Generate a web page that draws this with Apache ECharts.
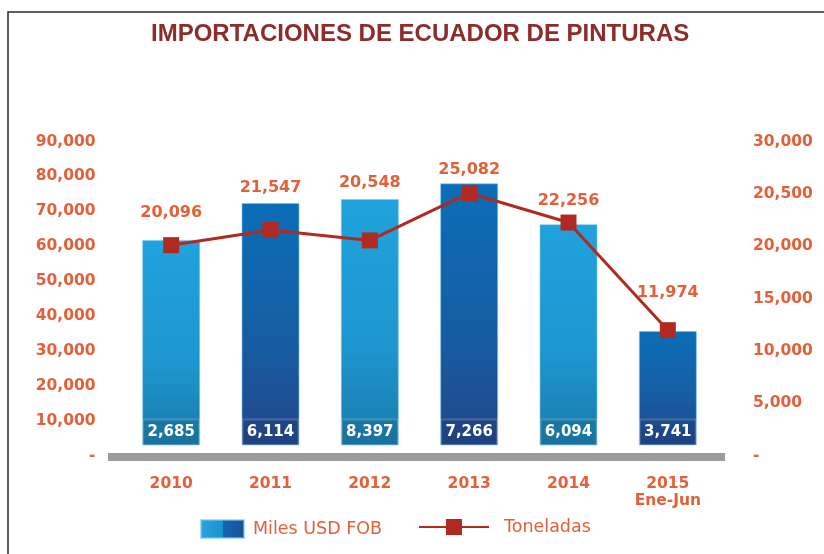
<!DOCTYPE html>
<html>
<head>
<meta charset="utf-8">
<script src="https://cdn.jsdelivr.net/npm/echarts@6/dist/echarts.min.js"></script>
<style>html,body{margin:0;padding:0;background:#fff;}#c{width:824px;height:554px;}</style>
</head>
<body>
<div id="c"></div>
<script>
// ---- data ----
const categories = ['2010', '2011', '2012', '2013', '2014', '2015\nEne-Jun'];
const usdBarHeights = [61800, 72400, 73500, 78000, 66300, 35700];
const usdLabels = ['2,685', '6,114', '8,397', '7,266', '6,094', '3,741'];
const toneladas = [20096, 21547, 20548, 25082, 22256, 11974];
const leftTickLabels = ['-', '10,000', '20,000', '30,000', '40,000', '50,000', '60,000', '70,000', '80,000', '90,000'];
const rightTickLabels = ['-', '5,000', '10,000', '15,000', '20,000', '20,500', '30,000'];

// ---- styling ----
const ORANGE = '#e2603a';
const FONT = 'DejaVu Sans';
const baseGap = 2900; // visual gap under bars (left-axis units)
const topLabelDist = [19, 7, 8, 6, 15, 30];

const lightGrad = new echarts.graphic.LinearGradient(0, 0, 0, 1, [
  {offset: 0, color: '#20a2dc'}, {offset: 0.6, color: '#1d96cf'}, {offset: 1, color: '#1a7aa9'}]);
const darkGrad = new echarts.graphic.LinearGradient(0, 0, 0, 1, [
  {offset: 0, color: '#0a6eb7'}, {offset: 0.6, color: '#175ca1'}, {offset: 1, color: '#24468a'}]);
const legendGrad = new echarts.graphic.LinearGradient(0, 0, 1, 0, [
  {offset: 0, color: '#2aa6e0'}, {offset: 0.5, color: '#1d8fcc'}, {offset: 0.5, color: '#1068b2'}, {offset: 1, color: '#1c4f94'}]);

const fmt = n => n.toLocaleString('en-US');

const chart = echarts.init(document.getElementById('c'), null, {renderer: 'canvas'});
chart.setOption({
  backgroundColor: '#ffffff',
  animation: false,
  title: {
    text: 'IMPORTACIONES DE ECUADOR DE PINTURAS',
    left: 146, top: 17,
    textStyle: {fontFamily: 'Liberation Sans', fontWeight: 'bold', fontSize: 24, color: '#8e2b2b'}
  },
  legend: [
    {
      data: [{name: 'Miles USD FOB', icon: 'rect', itemStyle: {color: legendGrad}}],
      left: 195, top: 514, itemWidth: 43, itemHeight: 18,
      textStyle: {fontFamily: FONT, fontSize: 17.5, color: ORANGE, padding: [0, 0, 0, 4]}
    },
    {
      data: ['Toneladas'],
      left: 413, top: 513, itemWidth: 70, itemHeight: 20,
      textStyle: {fontFamily: FONT, fontSize: 17.5, color: ORANGE, padding: [0, 0, 0, 10]}
    }
  ],
  grid: {left: 121.5, right: 106.5, top: 141.5, bottom: 98.5, containLabel: false},
  xAxis: {
    type: 'category', data: categories,
    axisLine: {show: false}, axisTick: {show: false}, splitLine: {show: false},
    axisLabel: {fontFamily: FONT, fontWeight: 'bold', fontSize: 15.5, color: ORANGE, margin: 20, lineHeight: 17}
  },
  yAxis: [
    {
      type: 'value', min: 0, max: 90000, interval: 10000,
      axisLine: {show: false}, axisTick: {show: false}, splitLine: {show: false},
      axisLabel: {fontFamily: FONT, fontWeight: 'bold', fontSize: 15.5, color: ORANGE, margin: 26,
        formatter: (v) => leftTickLabels[Math.round(v / 10000)]}
    },
    {
      type: 'value', min: 0, max: 30000, interval: 5000,
      axisLine: {show: false}, axisTick: {show: false}, splitLine: {show: false},
      axisLabel: {fontFamily: FONT, fontWeight: 'bold', fontSize: 15.5, color: ORANGE, margin: 35.5,
        formatter: (v) => rightTickLabels[Math.round(v / 5000)]}
    }
  ],
  series: [
    {
      name: '_base', type: 'bar', stack: 'usd', barWidth: 58, silent: true,
      data: usdBarHeights.map(() => baseGap),
      itemStyle: {color: 'rgba(0,0,0,0)'},
      label: {
        show: true, position: 'top', distance: 0,
        formatter: (p) => usdLabels[p.dataIndex],
        fontFamily: FONT, fontWeight: 'bold', fontSize: 15, color: '#ffffff',
        width: 56, height: 26, lineHeight: 26, align: 'center',
        backgroundColor: 'rgba(0,0,0,0.07)', borderColor: 'rgba(255,255,255,0.18)', borderWidth: 1
      }
    },
    {
      name: 'Miles USD FOB', type: 'bar', stack: 'usd', barWidth: 58,
      data: usdBarHeights.map((v, i) => ({
        value: v - baseGap,
        itemStyle: {color: i % 2 === 0 ? lightGrad : darkGrad},
        label: {distance: topLabelDist[i]}
      })),
      itemStyle: {color: legendGrad, borderColor: 'rgba(120,200,240,0.6)', borderWidth: 1},
      label: {
        show: true, position: 'top',
        formatter: (p) => fmt(toneladas[p.dataIndex]),
        fontFamily: FONT, fontWeight: 'bold', fontSize: 16, color: ORANGE
      }
    },
    {
      name: 'Toneladas', type: 'line', yAxisIndex: 1, z: 5,
      data: toneladas,
      symbol: 'rect', symbolSize: 16,
      lineStyle: {color: '#b12a22', width: 3},
      itemStyle: {color: '#b12a22'}
    }
  ],
  graphic: [
    {type: 'rect', shape: {x: 108, y: 453, width: 617, height: 8}, style: {fill: '#9b9b9d'}, z: 10},
    {type: 'rect', shape: {x: 8, y: 12, width: 830, height: 560}, style: {fill: 'none', stroke: '#2a2a2a', lineWidth: 1.5}, z: 10}
  ]
});
</script>
</body>
</html>
